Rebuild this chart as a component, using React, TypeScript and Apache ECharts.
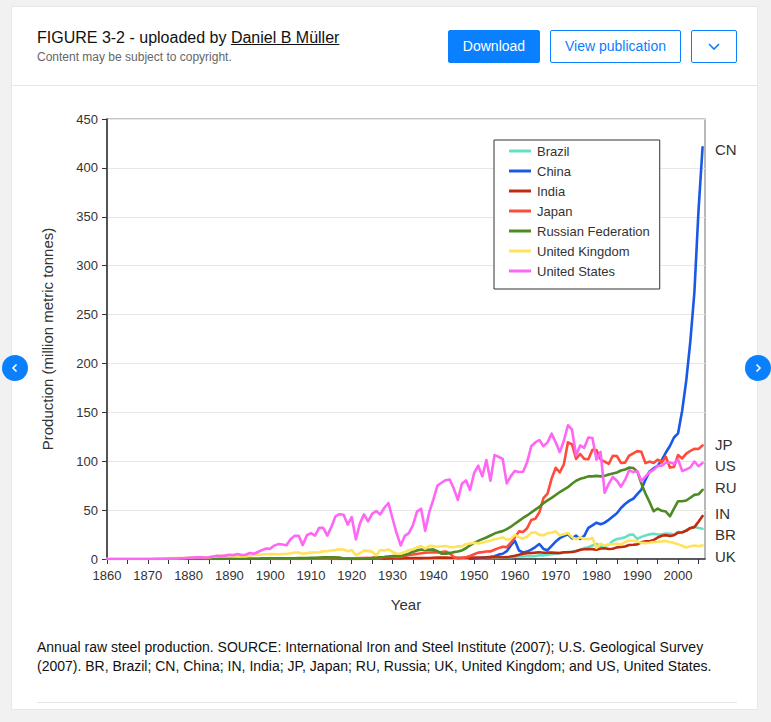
import React, { useEffect, useRef } from 'react';
import * as echarts from 'echarts';

const FONT = '"Liberation Sans", Arial, Helvetica, sans-serif';

// ---- Data (million metric tonnes, annual raw steel production) ----
const seriesNames = ['Brazil', 'China', 'India', 'Japan', 'Russian Federation', 'United Kingdom', 'United States'];
const countryCodes = ['CN', 'JP', 'US', 'RU', 'IN', 'BR', 'UK'];

const brazilStart = 1925;
const brazilValues = [
  0.01, 0.01, 0.01, 0.02, 0.03,
  0.02, 0.03, 0.03, 0.05, 0.06, 0.06, 0.07, 0.08, 0.09, 0.1,
  0.14, 0.16, 0.16, 0.19, 0.22, 0.2, 0.34, 0.39, 0.48, 0.61,
  0.79, 0.84, 0.89, 1.02, 1.15, 1.16, 1.37, 1.47, 1.66, 1.87,
  2.28, 2.49, 2.6, 2.88, 3.05, 2.98, 3.78, 3.7, 4.45, 4.92,
  5.39, 5.99, 6.52, 7.15, 7.5, 8.3, 9.17, 11.16, 12.1, 13.89,
  15.34, 13.23, 12.99, 14.67, 18.39, 20.46, 21.23, 22.23, 24.66, 25.02,
  20.57, 22.62, 23.93, 25.21, 25.75, 25.08, 25.24, 26.15, 25.76, 24.99,
  27.87, 26.72, 29.6, 31.15, 32.92, 31.61, 30.9,
];

const chinaStart = 1949;
const chinaValues = [
  0.16,
  0.61, 0.9, 1.35, 1.77, 2.23, 2.85, 4.47, 5.35, 8.0, 13.87,
  18.66, 8.7, 6.67, 7.62, 9.64, 12.23, 15.32, 10.29, 9.04, 13.33,
  17.79, 21.32, 23.38, 25.22, 21.12, 23.9, 20.46, 23.74, 31.78, 34.48,
  37.12, 35.6, 37.16, 40.02, 43.47, 46.79, 52.2, 56.28, 59.43, 61.59,
  66.35, 71.0, 80.94, 89.56, 92.61, 95.36, 101.24, 108.91, 115.59, 124.26,
  128.5, 151.63, 182.37, 222.34, 272.8, 355.8, 421.0,
];

const indiaStart = 1914;
const indiaValues = [
  0.07, 0.1, 0.13, 0.14, 0.15, 0.16,
  0.16, 0.17, 0.14, 0.15, 0.34, 0.49, 0.52, 0.55, 0.35, 0.59,
  0.6, 0.45, 0.6, 0.72, 0.8, 0.88, 0.86, 0.91, 0.98, 1.05,
  1.29, 1.36, 1.36, 1.37, 1.3, 1.34, 1.27, 1.29, 1.28, 1.37,
  1.47, 1.54, 1.6, 1.53, 1.71, 1.73, 1.78, 1.74, 1.87, 2.47,
  3.29, 4.28, 5.4, 5.9, 6.2, 6.5, 6.9, 6.4, 6.5, 6.5,
  6.3, 6.1, 6.9, 6.9, 7.1, 7.9, 9.4, 10.0, 10.1, 10.1,
  9.5, 10.8, 11.0, 10.2, 10.5, 11.9, 12.2, 12.8, 14.3, 14.6,
  15.0, 17.1, 18.1, 18.2, 19.3, 22.0, 23.8, 24.4, 23.5, 24.3,
  26.9, 27.3, 28.8, 31.8, 32.6, 38.1, 44.0,
];

const japanStart = 1900;
const japanValues = [
  0.0, 0.01, 0.02, 0.03, 0.05, 0.07, 0.07, 0.08, 0.1, 0.11,
  0.25, 0.3, 0.3, 0.25, 0.3, 0.5, 0.6, 0.77, 0.81, 0.81,
  0.81, 0.8, 0.9, 1.0, 1.1, 1.3, 1.5, 1.7, 1.9, 2.3,
  2.3, 1.9, 2.4, 3.2, 3.8, 4.7, 5.2, 5.8, 6.5, 6.7,
  6.9, 6.8, 7.0, 7.7, 5.9, 2.0, 0.56, 0.95, 1.7, 3.1,
  4.84, 6.5, 7.0, 7.66, 7.75, 9.4, 11.1, 12.57, 12.12, 16.63,
  22.14, 28.27, 27.55, 31.5, 39.8, 41.16, 47.78, 62.15, 66.89, 82.17,
  93.32, 88.56, 96.9, 119.32, 117.13, 102.31, 107.4, 102.4, 102.1, 111.7,
  111.4, 101.7, 99.5, 97.2, 105.6, 105.3, 98.3, 98.5, 105.7, 107.9,
  110.3, 109.6, 98.1, 99.6, 98.3, 101.6, 98.8, 104.5, 93.5, 94.2,
  106.4, 102.9, 107.7, 110.5, 112.7, 112.5, 116.2,
];

const russiaStart = 1880;
const russiaValues = [
  0.1, 0.1, 0.1, 0.1, 0.1, 0.1, 0.1, 0.1, 0.1, 0.2,
  0.2, 0.2, 0.3, 0.3, 0.3, 0.4, 0.4, 0.5, 0.6, 0.7,
  0.8, 0.8, 0.7, 0.7, 0.8, 0.8, 0.8, 0.9, 0.9, 1.0,
  1.2, 1.3, 1.5, 1.7, 1.8, 1.7, 1.8, 1.5, 0.4, 0.1,
  0.1, 0.1, 0.2, 0.3, 0.5, 0.9, 1.5, 1.8, 2.1, 2.5,
  3.0, 3.2, 3.3, 4.0, 5.5, 7.5, 8.8, 9.6, 9.8, 9.4,
  9.8, 8.0, 5.4, 5.5, 6.0, 7.0, 7.6, 8.8, 11.0, 14.0,
  16.5, 18.5, 20.3, 22.0, 24.0, 26.0, 27.5, 28.5, 30.5, 33.0,
  36.0, 39.0, 42.0, 44.5, 47.5, 50.5, 53.5, 57.0, 60.0, 62.5,
  65.5, 68.5, 71.0, 73.5, 77.0, 80.0, 82.0, 83.0, 84.5, 84.5,
  85.0, 84.5, 85.0, 86.5, 87.5, 88.5, 90.5, 91.5, 93.5, 93.0,
  89.6, 77.1, 67.0, 58.3, 48.8, 51.6, 49.3, 48.5, 43.7, 51.5,
  59.1, 59.0, 59.8, 62.7, 65.6, 66.2, 70.8,
];

const ukStart = 1860;
const ukValues = [
  0.1, 0.12, 0.14, 0.16, 0.18, 0.2, 0.22, 0.25, 0.28, 0.3,
  0.33, 0.4, 0.45, 0.5, 0.6, 0.72, 0.85, 0.9, 1.0, 1.0,
  1.32, 1.8, 2.1, 2.0, 1.8, 1.9, 2.3, 3.1, 3.4, 3.6,
  3.6, 3.2, 2.9, 2.9, 3.1, 3.3, 4.1, 4.5, 4.6, 4.9,
  5.0, 5.0, 4.9, 5.1, 5.1, 5.9, 6.5, 6.6, 5.4, 6.0,
  6.5, 6.6, 6.9, 7.8, 8.0, 8.7, 9.1, 9.9, 9.7, 8.0,
  9.2, 3.8, 5.9, 8.6, 8.3, 7.5, 3.6, 9.2, 8.7, 9.8,
  7.4, 5.3, 5.3, 7.1, 8.9, 10.0, 11.9, 13.2, 10.6, 13.4,
  13.2, 12.5, 13.1, 13.2, 12.3, 12.0, 12.9, 12.9, 15.1, 15.8,
  16.6, 16.0, 16.7, 17.9, 18.8, 20.1, 21.0, 22.0, 19.9, 20.5,
  24.7, 22.4, 20.8, 23.0, 26.7, 27.4, 24.7, 24.3, 26.3, 26.8,
  28.3, 24.2, 25.3, 26.6, 22.4, 20.1, 22.3, 20.4, 20.3, 21.5,
  11.3, 15.6, 13.7, 15.0, 15.1, 15.7, 14.7, 17.4, 19.0, 18.7,
  17.8, 16.5, 16.2, 16.6, 17.3, 17.6, 18.0, 18.5, 17.3, 16.3,
  15.2, 13.5, 11.7, 13.1, 13.8, 13.2, 13.9,
];

const usStart = 1860;
const usValues = [
  0.01, 0.01, 0.01, 0.01, 0.01, 0.02, 0.02, 0.02, 0.03, 0.03,
  0.07, 0.07, 0.14, 0.2, 0.22, 0.39, 0.54, 0.57, 0.74, 0.95,
  1.27, 1.61, 1.77, 1.7, 1.57, 1.74, 2.6, 3.39, 2.95, 3.44,
  4.35, 3.97, 5.0, 4.1, 4.4, 6.2, 5.37, 7.2, 9.07, 10.8,
  10.4, 13.7, 15.2, 14.8, 14.1, 20.3, 23.8, 23.7, 14.2, 24.3,
  26.5, 24.0, 31.8, 31.8, 23.9, 32.7, 43.5, 45.8, 45.2, 35.2,
  42.8, 20.1, 36.2, 45.7, 38.5, 46.1, 49.1, 45.6, 52.4, 57.3,
  41.4, 26.4, 13.9, 23.6, 26.5, 34.6, 48.5, 51.4, 28.8, 47.9,
  60.8, 75.1, 78.0, 80.6, 81.3, 72.3, 60.4, 77.0, 80.4, 70.7,
  87.8, 95.4, 84.5, 101.3, 80.1, 106.2, 104.5, 102.3, 77.3, 84.8,
  90.1, 88.9, 89.2, 99.1, 115.3, 119.2, 121.7, 115.4, 119.3, 128.2,
  119.3, 109.3, 120.9, 136.8, 132.2, 105.8, 116.1, 113.7, 124.3, 123.7,
  101.5, 109.6, 67.7, 76.8, 83.9, 80.1, 74.0, 80.9, 90.7, 88.9,
  89.7, 79.7, 84.3, 88.8, 91.2, 95.2, 95.5, 98.5, 98.7, 97.4,
  101.8, 90.1, 91.6, 93.7, 99.7, 94.9, 98.2,
];

const xTickLabels = [1860, 1870, 1880, 1890, 1900, 1910, 1920, 1930, 1940, 1950, 1960, 1970, 1980, 1990, 2000];
const yTickLabels = [0, 50, 100, 150, 200, 250, 300, 350, 400, 450];

const seriesStarts = [brazilStart, chinaStart, indiaStart, japanStart, russiaStart, ukStart, usStart];
const seriesValues = [brazilValues, chinaValues, indiaValues, japanValues, russiaValues, ukValues, usValues];
const seriesColors = ['#66e0c2', '#1a58e8', '#c22a0e', '#ff4b3a', '#4e8a22', '#ffe35c', '#ff66f4'];

function toPairs(start: number, values: number[]) {
  return values.map((v, i) => [start + i, v]);
}

export default function App() {
  const ref = useRef<HTMLDivElement>(null);

  useEffect(() => {
    if (!ref.current) return;
    const chart = echarts.init(ref.current, null, { renderer: 'svg' });
    const labelYs = [151, 446, 467, 489, 515, 536, 558];
    const option: any = {
      animation: false,
      textStyle: { fontFamily: FONT },
      grid: {
        left: 107,
        top: 119,
        width: 598,
        height: 440,
        show: true,
        borderColor: '#8a8a8a',
        borderWidth: 1.2,
        backgroundColor: 'transparent',
        containLabel: false,
      },
      legend: {
        show: true,
        orient: 'vertical',
        left: 494,
        top: 140,
        data: seriesNames,
        icon: 'rect',
        itemWidth: 22,
        itemHeight: 3,
        itemGap: 0,
        selectedMode: false,
        padding: [1, 10, 8, 15],
        backgroundColor: '#ffffff',
        borderColor: '#333333',
        borderWidth: 1,
        textStyle: { color: '#333333', fontSize: 13, fontFamily: FONT, lineHeight: 20, padding: [0, 0, 0, 1] },
      },
      xAxis: {
        type: 'value',
        min: 1860,
        max: 2006.6,
        interval: 5,
        name: 'Year',
        nameLocation: 'middle',
        nameGap: 38,
        nameTextStyle: { color: '#333333', fontSize: 15, fontFamily: FONT },
        axisLine: { show: true, onZero: false, lineStyle: { color: '#333333', width: 1.5 } },
        axisTick: { show: true, length: 5, lineStyle: { color: '#333333', width: 1 } },
        axisLabel: {
          color: '#333333',
          fontSize: 13,
          fontFamily: FONT,
          margin: 10,
          showMaxLabel: false,
          formatter: (v: number) => (xTickLabels.indexOf(v) >= 0 ? String(v) : ''),
        },
        splitLine: { show: false },
      },
      yAxis: {
        type: 'value',
        min: 0,
        max: 450,
        interval: 50,
        name: 'Production (million metric tonnes)',
        nameLocation: 'middle',
        nameGap: 52,
        nameTextStyle: { color: '#333333', fontSize: 15, fontFamily: FONT },
        axisLine: { show: true, lineStyle: { color: '#333333', width: 1.5 } },
        axisTick: { show: true, length: 5, lineStyle: { color: '#333333', width: 1 } },
        axisLabel: {
          color: '#333333',
          fontSize: 13,
          fontFamily: FONT,
          margin: 9,
          formatter: (v: number) => (yTickLabels.indexOf(v) >= 0 ? String(v) : ''),
        },
        splitLine: { show: true, lineStyle: { color: '#e6e8e8', width: 1 } },
      },
      series: seriesNames.map((name, i) => ({
        name,
        type: 'line',
        data: toPairs(seriesStarts[i], seriesValues[i]),
        showSymbol: false,
        symbol: 'none',
        color: seriesColors[i],
        lineStyle: { color: seriesColors[i], width: 2.6, join: 'round', cap: 'round' },
        z: 2 + i,
      })),
      graphic: countryCodes.map((code, i) => ({
        type: 'text',
        left: 715,
        top: labelYs[i] - 9,
        style: { text: code, fill: '#333333', font: `15px ${FONT}` },
        z: 100,
      })),
    };
    chart.setOption(option);
    return () => chart.dispose();
  }, []);

  const btnBase: React.CSSProperties = {
    position: 'absolute',
    top: 30,
    height: 33,
    boxSizing: 'border-box',
    borderRadius: 2,
    fontSize: 14,
    lineHeight: '31px',
    textAlign: 'center',
    fontFamily: FONT,
  };

  const navCircle = (left: number, dir: 'l' | 'r'): React.ReactElement => (
    <div
      style={{
        position: 'absolute',
        left: left - 13,
        top: 355,
        width: 26,
        height: 26,
        borderRadius: 13,
        background: '#0a80ff',
        zIndex: 5,
      }}
    >
      <svg width="26" height="26" viewBox="0 0 26 26">
        <polyline
          points={dir === 'l' ? '14.5,9.5 11,13 14.5,16.5' : '11.5,9.5 15,13 11.5,16.5'}
          fill="none"
          stroke="#ffffff"
          strokeWidth="1.6"
        />
      </svg>
    </div>
  );

  return (
    <div
      style={{
        position: 'absolute',
        left: 0,
        top: 0,
        width: 771,
        height: 722,
        background: '#f1f1f1',
        overflow: 'hidden',
        fontFamily: FONT,
      }}
    >
      <div
        style={{
          position: 'absolute',
          left: 12,
          top: 7,
          width: 745,
          height: 702,
          background: '#ffffff',
          boxShadow: '0 0 0 1px #e8e8e8',
        }}
      />
      <div style={{ position: 'absolute', left: 37, top: 29, fontSize: 16, lineHeight: '18px', color: '#111111', whiteSpace: 'nowrap' }}>
        FIGURE 3-2 - uploaded by <span style={{ textDecoration: 'underline' }}>Daniel B Müller</span>
      </div>
      <div style={{ position: 'absolute', left: 37, top: 50, fontSize: 12, lineHeight: '14px', color: '#666666', whiteSpace: 'nowrap' }}>
        Content may be subject to copyright.
      </div>
      <div style={{ ...btnBase, left: 448, width: 92, background: '#0a80ff', color: '#ffffff', border: '1px solid #0a80ff' }}>Download</div>
      <div style={{ ...btnBase, left: 550, width: 131, background: '#ffffff', color: '#0a80ff', border: '1px solid #0a80ff' }}>View publication</div>
      <div style={{ ...btnBase, left: 691, width: 46, background: '#ffffff', border: '1px solid #0a80ff' }}>
        <svg width="44" height="31" viewBox="0 0 44 31" style={{ display: 'block' }}>
          <polyline points="17,13 22,18 27,13" fill="none" stroke="#0a80ff" strokeWidth="1.6" />
        </svg>
      </div>
      <div style={{ position: 'absolute', left: 12, top: 85, width: 745, height: 1, background: '#e6e6e6' }} />

      <div ref={ref} style={{ position: 'absolute', left: 0, top: 0, width: 771, height: 722 }} />

      <div style={{ position: 'absolute', left: 37, top: 638, fontSize: 14, lineHeight: '19px', color: '#111111', whiteSpace: 'nowrap' }}>
        Annual raw steel production. SOURCE: International Iron and Steel Institute (2007); U.S. Geological Survey
        <br />
        (2007). BR, Brazil; CN, China; IN, India; JP, Japan; RU, Russia; UK, United Kingdom; and US, United States.
      </div>
      <div style={{ position: 'absolute', left: 37, top: 702, width: 700, height: 1, background: '#e3e3e3' }} />
      {navCircle(15, 'l')}
      {navCircle(758, 'r')}
    </div>
  );
}
